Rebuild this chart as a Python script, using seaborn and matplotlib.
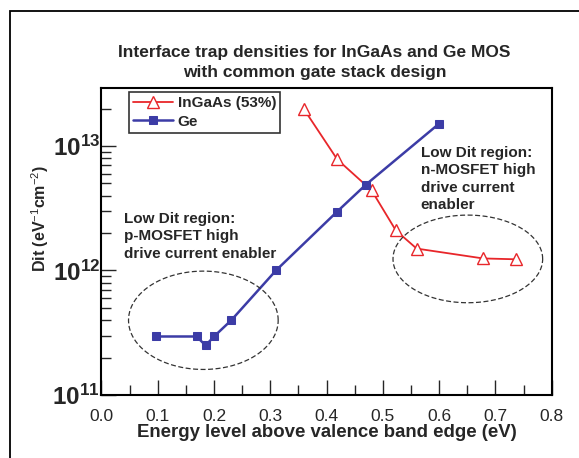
import numpy as np
import pandas as pd
import matplotlib
matplotlib.use("Agg")
import matplotlib.pyplot as plt
import seaborn as sns
from matplotlib.patches import Rectangle
from matplotlib.ticker import LogLocator, MultipleLocator, FixedLocator

# ---- data ----
ingaas_energy = [0.359, 0.419, 0.480, 0.523, 0.560, 0.678, 0.737]
ingaas_dit = [2.0e13, 7.8e12, 4.4e12, 2.1e12, 1.5e12, 1.25e12, 1.23e12]
ge_energy = [0.097, 0.169, 0.185, 0.200, 0.231, 0.310, 0.418, 0.470, 0.599]
ge_dit = [2.95e11, 2.95e11, 2.5e11, 2.95e11, 4.0e11, 1.0e12, 2.95e12, 4.9e12, 1.5e13]
series_names = ["InGaAs (53%)", "Ge"]
x_ticks = [0.0, 0.1, 0.2, 0.3, 0.4, 0.5, 0.6, 0.7, 0.8]
y_ticks = [1e11, 1e12, 1e13]
title_text = "Interface trap densities for InGaAs and Ge MOS\nwith common gate stack design"
xlabel_text = "Energy level above valence band edge (eV)"
ylabel_text = "Dit (eV$^{-1}$cm$^{-2}$)"
note_left = "Low Dit region:\np-MOSFET high\ndrive current enabler"
note_right = "Low Dit region:\nn-MOSFET high\ndrive current\nenabler"
# ellipse annotations: (center energy, center log10 Dit, half-width eV, half-height decades)
ellipse_left = (0.181, 11.60, 0.133, 0.395)
ellipse_right = (0.651, 12.093, 0.133, 0.352)

sns.set_style("ticks")
plt.rcParams["font.family"] = ["Liberation Sans", "DejaVu Sans"]
plt.rcParams["mathtext.fontset"] = "custom"
plt.rcParams["mathtext.rm"] = "Liberation Sans"
plt.rcParams["mathtext.bf"] = "Liberation Sans:bold"
plt.rcParams["mathtext.it"] = "Liberation Sans:italic"

df_i = pd.DataFrame({"E": ingaas_energy, "Dit": ingaas_dit})
df_g = pd.DataFrame({"E": ge_energy, "Dit": ge_dit})

fig = plt.figure(figsize=(5.79, 4.58), dpi=100)
ax = fig.add_axes([0.1753, 0.1376, 0.7775, 0.6709])

red = "#e8262a"
blue = "#3c3ca6"
sns.lineplot(data=df_i, x="E", y="Dit", ax=ax, color=red, lw=1.3,
             marker="^", markersize=8, markerfacecolor="white",
             markeredgecolor=red, markeredgewidth=1.0, label=series_names[0])
sns.lineplot(data=df_g, x="E", y="Dit", ax=ax, color=blue, lw=1.8,
             marker="s", markersize=6, markerfacecolor=blue,
             markeredgecolor=blue, label=series_names[1])

ax.set_yscale("log")
ax.set_xlim(0.0, 0.8)
ax.set_ylim(1e11, 2.94e13)
ax.xaxis.set_major_locator(FixedLocator(x_ticks))
ax.xaxis.set_minor_locator(MultipleLocator(0.05))
ax.yaxis.set_major_locator(FixedLocator(y_ticks))
ax.yaxis.set_minor_locator(LogLocator(base=10, subs=np.arange(2, 10)))
ax.set_xticklabels([f"{v:.1f}" for v in x_ticks], fontsize=12.5)
ax.set_yticklabels([r"$\mathbf{10}^{\mathbf{%d}}$" % int(np.log10(v)) for v in y_ticks],
                   fontsize=17.5)
ax.tick_params(which="major", direction="in", length=11, width=1.0, top=False, right=False)
ax.tick_params(which="minor", direction="in", length=7, width=1.0)
ax.tick_params(axis="x", pad=10)
ax.tick_params(axis="y", pad=1)
for s in ax.spines.values():
    s.set_linewidth(1.5)
    s.set_color("black")

ax.set_xlabel(xlabel_text, fontsize=13.4, fontweight="bold", labelpad=0)
ax.set_ylabel(ylabel_text, fontsize=11.5, fontweight="bold")
ax.yaxis.set_label_coords(-0.112, 0.573)
fig.text(0.543, 0.863, title_text, ha="center", va="center",
         fontsize=12.5, fontweight="bold", linespacing=1.45)

# ellipses
t = np.linspace(0, 2 * np.pi, 300)
for cx, cy, a, b in (ellipse_left, ellipse_right):
    ax.plot(cx + a * np.cos(t), 10 ** (cy + b * np.sin(t)), ls=(0, (4, 2)),
            color="#333333", lw=0.9)

ax.text(0.04, 10 ** 12.47, note_left, fontsize=11, fontweight="bold",
        va="top", ha="left", linespacing=1.3)
ax.text(0.567, 10 ** 13.0, note_right, fontsize=11, fontweight="bold",
        va="top", ha="left", linespacing=1.3)

leg = ax.legend(loc="upper left", bbox_to_anchor=(0.062, 0.985), frameon=True,
                fancybox=False, edgecolor="black", fontsize=11,
                handlelength=2.6, borderpad=0.25, labelspacing=0.3,
                handletextpad=0.3, borderaxespad=0)
leg.get_frame().set_linewidth(1.2)
for txt in leg.get_texts():
    txt.set_fontweight("bold")

# outer frame
fig.patches.append(Rectangle((10 / 579, -0.1), 1.2, 1 - 11 / 458 + 0.1,
                             transform=fig.transFigure, fill=False,
                             edgecolor="black", lw=1.3))

fig.savefig("out.png", dpi=100)
